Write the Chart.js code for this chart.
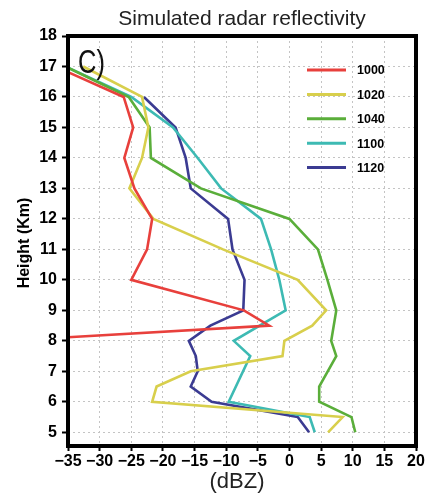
<!DOCTYPE html>
<html>
<head>
<meta charset="utf-8">
<script src="https://cdn.jsdelivr.net/npm/chart.js@4/dist/chart.umd.min.js"></script>
<style>
  html, body { margin: 0; padding: 0; background: #fff; }
  #wrap { width: 430px; height: 496px; position: relative; }
</style>
</head>
<body>
<div id="wrap"><canvas id="radarChart"></canvas></div>
<script>
// heights (km) of the profile levels, top to bottom
const heights = [17, 16, 15, 14, 13, 12, 11, 10, 9, 8.5, 8, 7.5, 7, 6.5, 6, 5.5, 5];

// reflectivity (dBZ) per time, null where there is no vertex
const refl1000 = [-37, -26.2, -24.7, -26.1, -24.5, -21.7, -22.5, -25.0, -7.2, -3.2, -45, null, null, null, null, null, null];
const refl1020 = [-32.6, -23.3, -22.3, -23.3, -25.3, -21.5, -10.5, 1.3, 5.8, 3.6, -0.8, -1.1, -15.6, -21.0, -21.7, 8.4, 6.1];
const refl1040 = [-35.4, -25.4, -22.1, -21.9, -14.0, 0.0, 4.5, 6.0, 7.4, null, 6.6, 7.4, null, 4.7, 4.7, 9.8, 10.4];
const refl1100 = [-35.4, -25.0, -18.4, -14.5, -10.8, -4.5, -2.9, -1.6, -0.6, null, -8.8, -6.2, null, null, -9.6, 3.2, 4.0];
const refl1120 = [null, -23.0, -18.0, -16.4, -15.6, -9.7, -9.0, -7.1, -7.3, -12.5, -15.9, -14.8, -14.5, -15.6, -12.3, 1.3, 3.1];

const seriesLabels = ['1000', '1020', '1040', '1100', '1120'];
const seriesColors = ['#e8403c', '#d8cf4c', '#5aae3a', '#3dbab3', '#3b3b92'];

// axis ticks
const xTickValues = [-35, -30, -25, -20, -15, -10, -5, 0, 5, 10, 15, 20];
const xTickLabels = ['\u221235', '\u221230', '\u221225', '\u221220', '\u221215', '\u221210', '\u22125', '0', '5', '10', '15', '20'];
const yTickValues = [5, 6, 7, 8, 9, 10, 11, 12, 13, 14, 15, 16, 17, 18];

const FONT = '"Liberation Sans", Arial, sans-serif';

function profile(values) {
    return heights.map((h, i) => ({ x: values[i], y: h })).filter(p => p.x !== null);
}

const allSeries = [refl1000, refl1020, refl1040, refl1100, refl1120];
const datasets = allSeries.map((vals, i) => ({
    label: seriesLabels[i],
    data: profile(vals),
    borderColor: seriesColors[i],
    backgroundColor: seriesColors[i],
    borderWidth: 2.6,
    pointRadius: 0,
    tension: 0,
    fill: false
}));

// frame, titles, panel letter and legend drawn on top of the plot
const decorations = {
    id: 'decorations',
    afterDraw(chart) {
        const { ctx, chartArea: a } = chart;
        ctx.save();

        // black frame around the plot
        ctx.strokeStyle = '#000';
        ctx.lineWidth = 4;
        ctx.strokeRect(a.left, a.top, a.right - a.left, a.bottom - a.top);

        // title
        ctx.fillStyle = '#222';
        ctx.font = '21px ' + FONT;
        ctx.textAlign = 'center';
        ctx.textBaseline = 'alphabetic';
        ctx.fillText('Simulated radar reflectivity', (a.left + a.right) / 2, 25);

        // x title
        ctx.font = '22px ' + FONT;
        ctx.fillText('(dBZ)', 237, 488);

        // y title
        ctx.save();
        ctx.translate(25, 243);
        ctx.rotate(-Math.PI / 2);
        ctx.font = 'bold 16px ' + FONT;
        ctx.fillStyle = '#000';
        ctx.textBaseline = 'middle';
        ctx.fillText('Height (Km)', 0, 0);
        ctx.restore();

        // panel letter
        ctx.save();
        ctx.translate(a.left + 10, a.top + 37);
        ctx.scale(0.75, 1);
        ctx.font = '34px ' + FONT;
        ctx.fillStyle = '#111';
        ctx.textAlign = 'left';
        ctx.fillText('C)', 0, 0);
        ctx.restore();

        // legend
        ctx.font = 'bold 12.5px ' + FONT;
        ctx.textAlign = 'left';
        ctx.textBaseline = 'middle';
        chart.data.datasets.forEach((ds, i) => {
            const y = 70 + i * 24.4;
            ctx.strokeStyle = ds.borderColor;
            ctx.lineWidth = 3;
            ctx.beginPath();
            ctx.moveTo(307, y);
            ctx.lineTo(346, y);
            ctx.stroke();
            ctx.fillStyle = '#000';
            ctx.fillText(ds.label, 357, y + 1);
        });

        ctx.restore();
    }
};

const ctx = document.getElementById('radarChart').getContext('2d');
const radarChart = new Chart(ctx, {
    type: 'line',
    data: { datasets },
    options: {
        responsive: true,
        maintainAspectRatio: false,
        devicePixelRatio: 1,
        animation: false,
        spanGaps: true,
        layout: { padding: { left: 0, right: 14, top: 36, bottom: 0 } },
        plugins: {
            legend: { display: false },
            title: { display: false },
            tooltip: { enabled: false }
        },
        scales: {
            x: {
                type: 'linear',
                min: -35,
                max: 20,
                afterBuildTicks: s => { s.ticks = xTickValues.map(v => ({ value: v })); },
                afterFit: s => { s.height = 50; },
                grid: {
                    color: '#c4c4c4',
                    lineWidth: 1,
                    drawTicks: true,
                    tickLength: 5,
                    tickColor: '#000',
                    tickWidth: 2,
                    tickBorderDash: []
                },
                border: { display: false, dash: [2, 3] },
                ticks: {
                    autoSkip: false,
                    maxRotation: 0,
                    padding: 1,
                    color: '#000',
                    font: { family: FONT, size: 16, weight: 'bold' },
                    callback: (v) => xTickLabels[xTickValues.indexOf(v)]
                }
            },
            y: {
                type: 'linear',
                min: 4.55,
                max: 18,
                afterBuildTicks: s => { s.ticks = yTickValues.map(v => ({ value: v })); },
                afterFit: s => { s.width = 68; },
                grid: {
                    color: '#c4c4c4',
                    lineWidth: 1,
                    drawTicks: true,
                    tickLength: 6,
                    tickColor: '#000',
                    tickWidth: 2,
                    tickBorderDash: []
                },
                border: { display: false, dash: [2, 3] },
                ticks: {
                    autoSkip: false,
                    padding: 5,
                    color: '#000',
                    font: { family: FONT, size: 16, weight: 'bold' },
                    callback: (v) => String(v)
                }
            }
        }
    },
    plugins: [decorations]
});
</script>
</body>
</html>
